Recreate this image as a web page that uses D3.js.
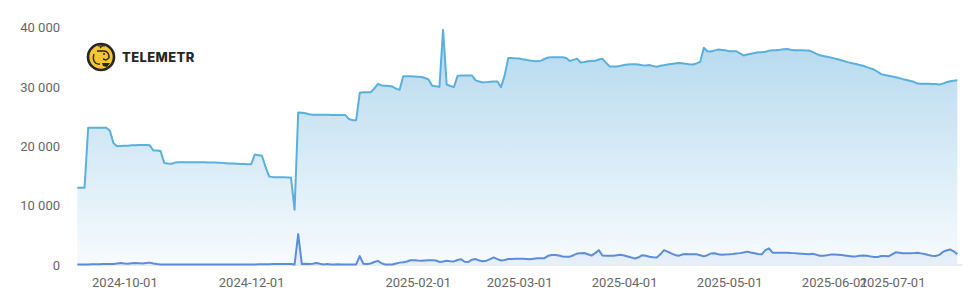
<!DOCTYPE html>
<html>
<head>
<meta charset="utf-8">
<script src="https://cdn.jsdelivr.net/npm/d3@7/dist/d3.min.js"></script>
<style>
  html, body { margin: 0; padding: 0; background: #ffffff; }
  svg { display: block; }
  text { font-family: Roboto, "Liberation Sans", Arial, sans-serif; }
</style>
</head>
<body>
<svg id="chart" width="974" height="302"></svg>
<script>
// ---- categories: dates present in the data (gaps where no data was collected)
const dateRanges = [
  ["2024-09-18", "2024-10-20"],
  ["2024-11-16", "2024-12-31"],
  ["2025-01-17", "2025-03-09"],
  ["2025-03-11", "2025-03-19"],
  ["2025-03-21", "2025-04-14"],
  ["2025-04-16", "2025-05-09"],
  ["2025-05-11", "2025-05-19"],
  ["2025-05-21", "2025-06-01"],
  ["2025-06-16", "2025-07-19"]
];

// ---- x tick labels
const xTickLabels = ["2024-10-01", "2024-12-01", "2025-02-01", "2025-03-01",
                     "2025-04-01", "2025-05-01", "2025-06-01", "2025-07-01"];

// ---- y ticks
const yTickValues = [0, 10000, 20000, 30000, 40000];

// ---- series 1 (light blue area, large)
const seriesMain = [
  13000, 13000, 13000, 23100, 23100, 23100, 23100, 23100, 23100, 22600,
  20500, 20000, 20050, 20100, 20100, 20150, 20150, 20200, 20200, 20200,
  20150, 19300, 19300, 19200, 17200, 17100, 17050, 17250, 17300, 17300,
  17300, 17300, 17300, 17300, 17300, 17300, 17280, 17250, 17250, 17230,
  17200, 17150, 17100, 17100, 17050, 17000, 17000, 16950, 16950, 18600,
  18500, 18400, 16500, 14900, 14800, 14800, 14800, 14800, 14750, 14750,
  9300, 25700, 25650, 25550, 25400, 25320, 25300, 25300, 25300, 25300,
  25280, 25280, 25280, 25280, 25250, 24600, 24400, 24400, 29000, 29100,
  29100, 29100, 29700, 30500, 30250, 30200, 30150, 30050, 29700, 29500,
  31800, 31800, 31800, 31750, 31700, 31650, 31500, 31250, 30200, 30100,
  30000, 39600, 30400, 30150, 29950, 31850, 31900, 31900, 31900, 31900,
  31100, 30900, 30750, 30800, 30850, 30900, 30900, 29950, 31900, 34850,
  34850, 34800, 34780, 34650, 34550, 34430, 34350, 34320, 34420, 34700,
  34950, 35000, 35000, 35000, 35000, 34850, 34350, 34550, 34750, 34100,
  34200, 34320, 34350, 34380, 34600, 34750, 34050, 33450, 33430, 33420,
  33550, 33700, 33750, 33800, 33800, 33750, 33650, 33600, 33680, 33500,
  33400, 33550, 33650, 33750, 33850, 33950, 34040, 33970, 33900, 33820,
  33770, 33950, 34200, 36600, 36000, 35950, 36150, 36280, 36220, 36150,
  36000, 35980, 36000, 35650, 35300, 35450, 35570, 35720, 35840, 35840,
  35900, 36100, 36170, 36170, 36250, 36350, 36380, 36250, 36170, 36150,
  36150, 36130, 36120, 35900, 35600, 35320, 35200, 35080, 34950, 34800,
  34650, 34480, 34300, 34130, 33990, 33840, 33700, 33560, 33330, 33120,
  32920, 32550, 32150, 31990, 31870, 31740, 31620, 31480, 31300, 31150,
  31000, 30850, 30550, 30540, 30530, 30520, 30500, 30480, 30400, 30550,
  30780, 30950, 31050, 31100
];

// ---- series 2 (darker blue line, small)
const seriesSecond = [
  100, 100, 100, 100, 120, 120, 120, 150, 150, 150,
  150, 250, 350, 250, 200, 300, 350, 300, 250, 350,
  400, 250, 150, 100, 100, 100, 100, 100, 100, 100,
  100, 100, 100, 100, 100, 100, 100, 100, 100, 100,
  100, 100, 100, 100, 100, 100, 100, 100, 100, 100,
  120, 120, 120, 120, 150, 150, 150, 150, 150, 150,
  100, 5200, 150, 200, 150, 200, 350, 200, 100, 150,
  100, 100, 120, 100, 100, 100, 100, 100, 1500, 200,
  150, 250, 500, 700, 300, 100, 100, 100, 250, 400,
  480, 600, 800, 800, 750, 730, 760, 790, 820, 750,
  520, 600, 730, 650, 600, 850, 950, 550, 500, 900,
  1000, 750, 630, 730, 1000, 1280, 1000, 750, 850, 1000,
  1030, 1050, 1070, 1050, 1000, 960, 1050, 1120, 1120, 1150,
  1550, 1690, 1690, 1600, 1420, 1400, 1400, 1650, 1920, 1960,
  2010, 1800, 1580, 2000, 2500, 1600, 1570, 1570, 1570, 1650,
  1720, 1600, 1420, 1250, 1100, 1300, 1650, 1550, 1390, 1300,
  1250, 1800, 2500, 2250, 1950, 1700, 1570, 1750, 1850, 1830,
  1820, 1800, 1650, 1450, 1650, 1950, 1980, 1820, 1740, 1770,
  1800, 1850, 1930, 2000, 2120, 2250, 2100, 1970, 1850, 1800,
  2500, 2800, 2080, 2080, 2080, 2080, 2080, 2030, 2000, 1950,
  1900, 1860, 1800, 1900, 1750, 1570, 1570, 1630, 1750, 1780,
  1720, 1670, 1610, 1520, 1430, 1450, 1570, 1620, 1570, 1450,
  1330, 1350, 1500, 1500, 1460, 1800, 2140, 2050, 1970, 1970,
  1970, 2000, 2080, 1960, 1840, 1680, 1560, 1520, 1700, 2200,
  2450, 2620, 2300, 1800
];

// ---- build category list from ranges
const fmt = d3.timeFormat("%Y-%m-%d");
const parse = d3.timeParse("%Y-%m-%d");
const dates = [];
dateRanges.forEach(([a, b]) => {
  d3.timeDay.range(parse(a), d3.timeDay.offset(parse(b), 1)).forEach(d => dates.push(fmt(d)));
});

const data = dates.map((d, i) => ({ date: d, main: seriesMain[i], second: seriesSecond[i] }));

const svg = d3.select("#chart");
const margin = { left: 77.3, right: 16.7, top: 27.5, bottom: 37 };
const W = 974, H = 302;

const x = d3.scalePoint().domain(dates).range([margin.left, W - margin.right]);
const y = d3.scaleLinear().domain([0, 40000]).range([H - margin.bottom, margin.top]);

const locale = d3.formatLocale({ decimal: ".", thousands: " ", grouping: [3], currency: ["", ""] });
const yFmt = locale.format(",d");

// gradient
const defs = svg.append("defs");
const grad = defs.append("linearGradient").attr("id", "gMain")
  .attr("x1", 0).attr("y1", 0).attr("x2", 0).attr("y2", 1);
grad.append("stop").attr("offset", "0%").attr("stop-color", "#b3d8ee");
grad.append("stop").attr("offset", "100%").attr("stop-color", "#f7fbfe");

// baseline
svg.append("line")
  .attr("x1", x.range()[0]).attr("x2", x.range()[1] + 5)
  .attr("y1", y(0)).attr("y2", y(0))
  .attr("stroke", "#e0e3e6").attr("stroke-width", 1.5);

const areaMain = d3.area().x(d => x(d.date)).y0(y(0)).y1(d => y(d.main));
const lineMain = d3.line().x(d => x(d.date)).y(d => y(d.main));
const areaSecond = d3.area().x(d => x(d.date)).y0(y(0)).y1(d => y(d.second));
const lineSecond = d3.line().x(d => x(d.date)).y(d => y(d.second));

svg.append("path").datum(data).attr("d", areaMain).attr("fill", "url(#gMain)");
svg.append("path").datum(data).attr("d", areaSecond).attr("fill", "rgba(91,141,220,0.10)");
svg.append("path").datum(data).attr("d", lineMain)
  .attr("fill", "none").attr("stroke", "#5ab0dc").attr("stroke-width", 2).attr("stroke-linejoin", "round");
svg.append("path").datum(data).attr("d", lineSecond)
  .attr("fill", "none").attr("stroke", "#5b8ddc").attr("stroke-width", 2).attr("stroke-linejoin", "round");

// y axis
const yAxis = svg.append("g").attr("transform", "translate(60,0)")
  .call(d3.axisLeft(y).tickValues(yTickValues).tickFormat(yFmt).tickSize(0).tickPadding(0));
yAxis.select(".domain").remove();
yAxis.selectAll("text").attr("fill", "#666").style("font-size", "13px")
  .style("font-family", "Roboto, 'Liberation Sans', Arial, sans-serif");

// x axis
const xAxis = svg.append("g").attr("transform", `translate(0,${y(0)})`)
  .call(d3.axisBottom(x).tickValues(xTickLabels).tickSize(0).tickPadding(13));
xAxis.select(".domain").remove();
xAxis.selectAll("text").attr("fill", "#666").style("font-size", "13px")
  .style("font-family", "Roboto, 'Liberation Sans', Arial, sans-serif");

// watermark logo
const logo = svg.append("g").attr("transform", "translate(101,57)");
logo.append("circle").attr("r", 13).attr("fill", "#f6c530").attr("stroke", "#262626").attr("stroke-width", 2.6);
logo.append("path").attr("d", "M-7,-3 C-9,3 -6,8 -1,7 M-4,-6 L3,-6 C7,-6 8,-2 8,1 L5,3 L2,2")
  .attr("fill", "none").attr("stroke", "#262626").attr("stroke-width", 1.4);
logo.append("path").attr("d", "M-1,-9 L2,-12 M-3,-11 L4,-11")
  .attr("fill", "none").attr("stroke", "#262626").attr("stroke-width", 1.1);
logo.append("path").attr("d", "M1,6 L9,6 L6,10 L2,9 Z").attr("fill", "#262626");
logo.append("circle").attr("cx", 3).attr("cy", -3).attr("r", 1).attr("fill", "#262626");
svg.append("text").attr("x", 122).attr("y", 62)
  .text("TELEMETR")
  .style("font-family", "Inter, 'Liberation Sans', Arial, sans-serif")
  .style("font-weight", 800).style("font-size", "13px")
  .attr("fill", "#262626").attr("letter-spacing", "0.4");
</script>
</body>
</html>
